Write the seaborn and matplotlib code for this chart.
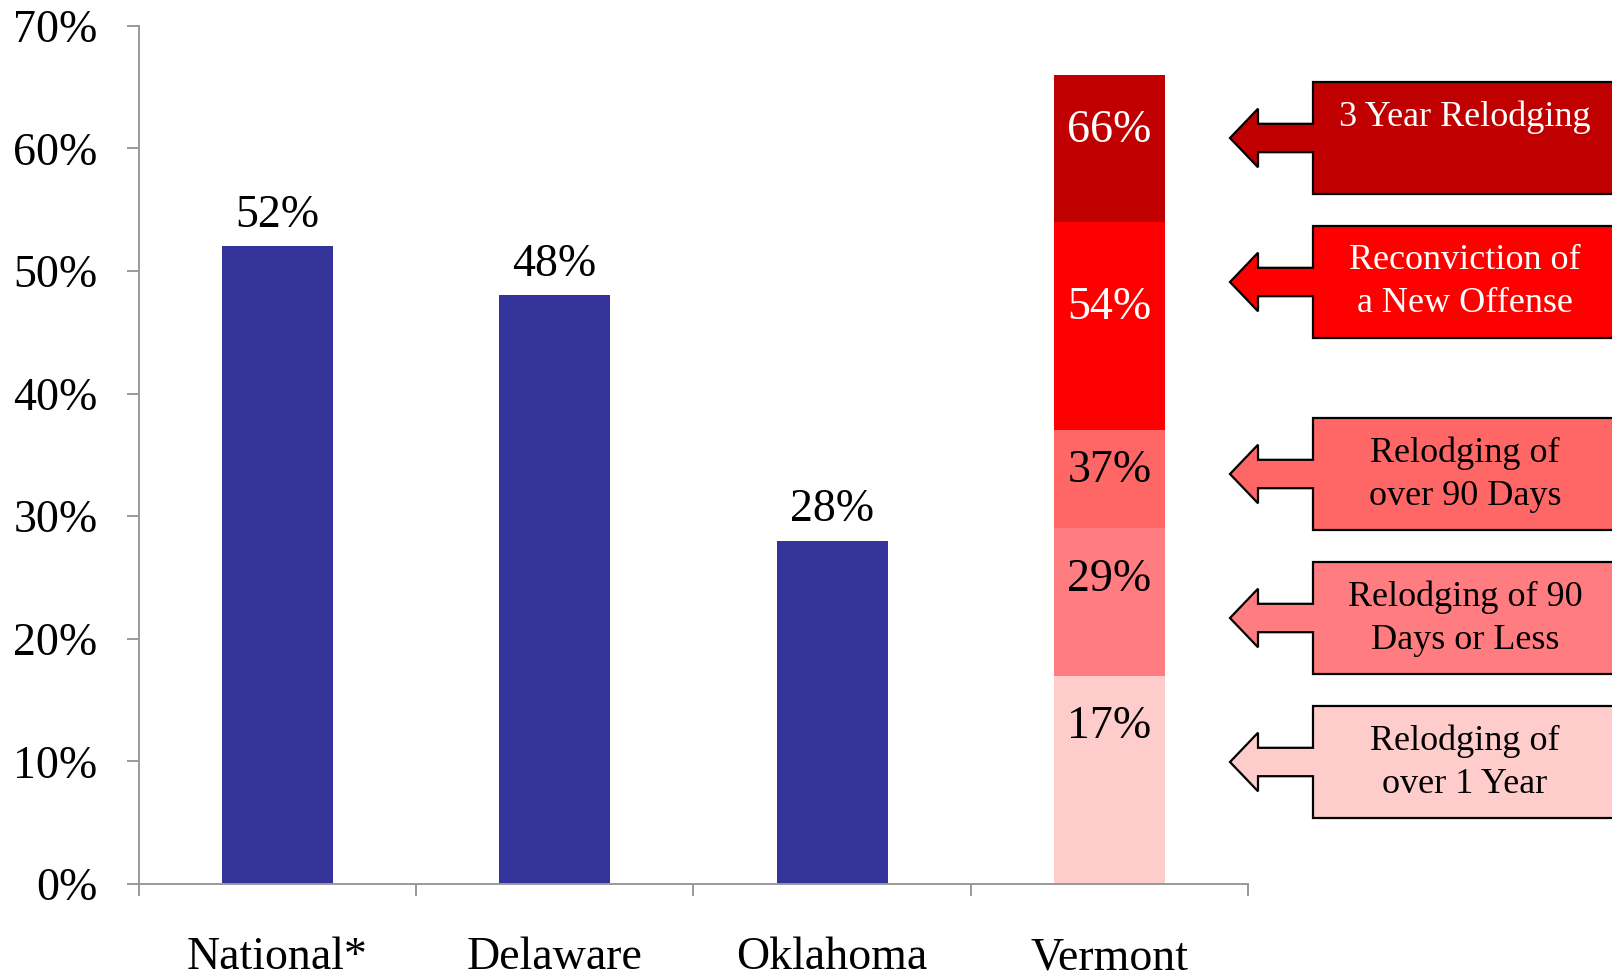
import matplotlib
matplotlib.use("Agg")
import matplotlib.pyplot as plt
import seaborn as sns
import pandas as pd
from matplotlib.patches import Polygon
from matplotlib.ticker import FixedLocator, FuncFormatter

# Data
categories = ["National*", "Delaware", "Oklahoma", "Vermont"]
overall_values = [52, 48, 28]

vermont_series = ["3 Year Relodging", "Reconviction of\na New Offense",
                  "Relodging of\nover 90 Days", "Relodging of 90\nDays or Less",
                  "Relodging of\nover 1 Year"]
vermont_values = [66, 54, 37, 29, 17]
vermont_colors = ["#C00000", "#FF0000", "#FF6666", "#FF7C80", "#FFCCCC"]
vermont_text = ["white", "white", "black", "black", "black"]
label_drop = [4.6, 7.0, 3.3, 4.2, 4.2]  # how far below the segment top each label sits

blue = "#333399"
grey = "#999999"

rows = [{"cat": c, "val": v, "series": "Overall"} for c, v in zip(categories[:3], overall_values)]
rows += [{"cat": "Vermont", "val": v, "series": s} for s, v in zip(vermont_series, vermont_values)]
df = pd.DataFrame(rows)

palette = {"Overall": blue}
palette.update(dict(zip(vermont_series, vermont_colors)))

sns.set_style("white")
plt.rcParams["font.family"] = ["Liberation Serif", "DejaVu Serif"]
plt.rcParams["text.color"] = "black"
plt.rcParams["xtick.labelcolor"] = "black"
plt.rcParams["ytick.labelcolor"] = "black"

fig = plt.figure(figsize=(16.12, 9.76), dpi=100)
ax = fig.add_axes([0.0861, 0.0943, 0.6881, 0.8794])

sns.barplot(data=df, x="cat", y="val", hue="series", order=categories,
            hue_order=["Overall"] + vermont_series, palette=palette, saturation=1,
            dodge=False, width=0.4, linewidth=0, legend=False, ax=ax)

ax.set_xlim(-0.5, 3.5)
ax.set_ylim(0, 70)
ax.set_xlabel("")
ax.set_ylabel("")

# y axis
ax.yaxis.set_major_locator(FixedLocator(range(0, 71, 10)))
ax.yaxis.set_major_formatter(FuncFormatter(lambda v, p: f"{int(v)}%"))
ax.tick_params(axis="y", which="major", direction="out", length=8.6, width=1.4,
               color=grey, pad=21, labelsize=33, labelcolor="black", left=True)

# x axis: ticks at category boundaries, labels at centers
ax.xaxis.set_major_locator(FixedLocator([-0.5, 0.5, 1.5, 2.5, 3.5]))
ax.xaxis.set_major_formatter(FuncFormatter(lambda v, p: ""))
ax.xaxis.set_minor_locator(FixedLocator(range(len(categories))))
ax.xaxis.set_minor_formatter(FuncFormatter(lambda v, p: categories[int(round(v))]))
ax.tick_params(axis="x", which="major", direction="out", length=8.6, width=1.4,
               color=grey, bottom=True)
ax.tick_params(axis="x", which="minor", length=0, pad=38, labelsize=33,
               labelcolor="black")

for side in ["top", "right"]:
    ax.spines[side].set_visible(False)
for side in ["left", "bottom"]:
    ax.spines[side].set_color(grey)
    ax.spines[side].set_linewidth(1.4)

# labels above the blue bars
for i, v in enumerate(overall_values):
    ax.annotate(f"{v}%", (i, v), xytext=(0, 7), textcoords="offset points",
                ha="center", va="bottom", fontsize=33, color="black")

# labels inside the Vermont segments
vx = categories.index("Vermont")
for v, d, tc in zip(vermont_values, label_drop, vermont_text):
    ax.text(vx, v - d, f"{v}%", ha="center", va="center", fontsize=33, color=tc)

# callout boxes with left-pointing arrows (figure pixel coordinates)
W, H = 1612, 976
box_tops = [82, 226, 418, 562, 706]
box_h = 112
box_left, head_back, tip, box_right = 1313, 1258, 1230, 1640
shaft_h, head_h = 14.2, 29.3
for top, text, col, tc in zip(box_tops, vermont_series, vermont_colors, vermont_text):
    cy = top + box_h / 2
    pts = [(box_right, top), (box_left, top), (box_left, cy - shaft_h),
           (head_back, cy - shaft_h), (head_back, cy - head_h), (tip, cy),
           (head_back, cy + head_h), (head_back, cy + shaft_h),
           (box_left, cy + shaft_h), (box_left, top + box_h), (box_right, top + box_h)]
    pts = [(x / W, 1 - y / H) for x, y in pts]
    fig.patches.append(Polygon(pts, closed=True, facecolor=col, edgecolor="black",
                               linewidth=1.6, transform=fig.transFigure, clip_on=False))
    fig.text(1465 / W, 1 - (top + 18) / H, text, ha="center", va="top",
             fontsize=26, color=tc, linespacing=1.42)

fig.savefig("out.png", dpi=100)
